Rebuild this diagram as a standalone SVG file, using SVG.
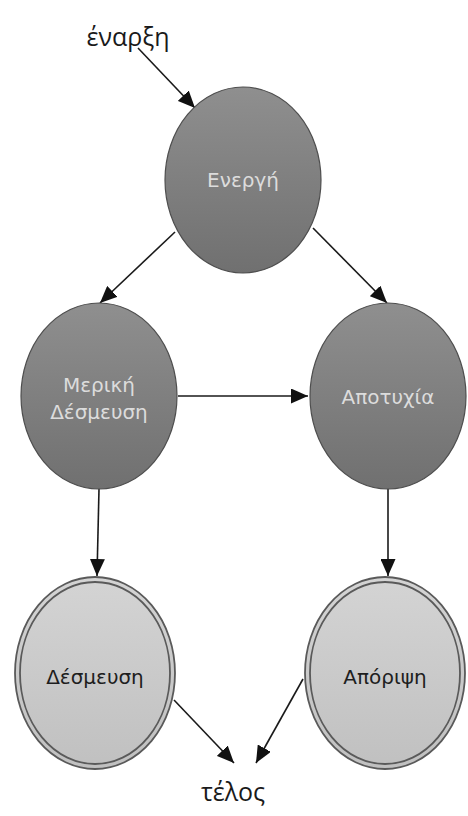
<svg xmlns="http://www.w3.org/2000/svg" width="468" height="816" viewBox="0 0 468 816">
  <defs>
    <linearGradient id="darkFill" x1="0" y1="0" x2="0" y2="1">
      <stop offset="0" stop-color="#8f8f8f"/>
      <stop offset="1" stop-color="#707070"/>
    </linearGradient>
    <linearGradient id="lightFill" x1="0" y1="0" x2="0" y2="1">
      <stop offset="0" stop-color="#d4d4d4"/>
      <stop offset="1" stop-color="#c0c0c0"/>
    </linearGradient>
    <marker id="arrow" markerUnits="userSpaceOnUse" markerWidth="17" markerHeight="15" viewBox="0 0 17 15" refX="17" refY="7.5" orient="auto">
      <path d="M0,0 L17,7.5 L0,15 Z" fill="#111"/>
    </marker>
    <style>
      .state { fill: url(#darkFill); stroke: #4e4e4e; stroke-width: 1.2; }
      .final { fill: url(#lightFill); stroke: #5a5a5a; stroke-width: 1.8; }
      .ring { fill: none; stroke: #5a5a5a; stroke-width: 1.8; }
      .lbl-light { font-family: "DejaVu Sans", Verdana, sans-serif; font-size: 20px; fill: #dcdcdc; text-anchor: middle; }
      .lbl-dark { font-family: "DejaVu Sans", Verdana, sans-serif; font-size: 20px; fill: #1e1e1e; text-anchor: middle; }
      .term { font-family: "Open Sans", "Noto Sans", sans-serif; font-size: 25px; fill: #1a1a1a; text-anchor: middle; }
      .edge { stroke: #1a1a1a; stroke-width: 1.6; fill: none; marker-end: url(#arrow); }
    </style>
  </defs>

  <rect width="468" height="816" fill="#ffffff"/>

  <!-- connectors -->
  <g id="edges">
    <line class="edge" x1="138" y1="48" x2="195" y2="108"/>
    <line class="edge" x1="175" y1="232" x2="100" y2="303"/>
    <line class="edge" x1="313" y1="228" x2="387" y2="303"/>
    <line class="edge" x1="178" y1="396" x2="308" y2="396"/>
    <line class="edge" x1="99" y1="489" x2="97" y2="576"/>
    <line class="edge" x1="388" y1="489" x2="388" y2="576"/>
    <line class="edge" x1="174" y1="700" x2="234" y2="763"/>
    <line class="edge" x1="303" y1="679" x2="256" y2="763"/>
  </g>

  <!-- start / end labels -->
  <g id="start">
    <text class="term" x="128" y="46">έναρξη</text>
  </g>
  <g id="end">
    <text class="term" x="233" y="801">τέλος</text>
  </g>

  <!-- states -->
  <g id="energi">
    <ellipse class="state" cx="243" cy="180" rx="78" ry="93"/>
    <text class="lbl-light" x="243" y="187">Ενεργή</text>
  </g>
  <g id="meriki-desmeusi">
    <ellipse class="state" cx="99" cy="396" rx="78" ry="93"/>
    <text class="lbl-light" x="99" y="392">Μερική</text>
    <text class="lbl-light" x="99" y="419">Δέσμευση</text>
  </g>
  <g id="apotyxia">
    <ellipse class="state" cx="388" cy="396" rx="78" ry="93"/>
    <text class="lbl-light" x="388" y="404">Αποτυχία</text>
  </g>
  <g id="desmeusi">
    <ellipse class="final" cx="95" cy="673" rx="80" ry="96"/>
    <ellipse class="ring" cx="95" cy="673" rx="75" ry="91"/>
    <text class="lbl-dark" x="95" y="684">Δέσμευση</text>
  </g>
  <g id="aporipsi">
    <ellipse class="final" cx="385" cy="673" rx="80" ry="96"/>
    <ellipse class="ring" cx="385" cy="673" rx="75" ry="91"/>
    <text class="lbl-dark" x="385" y="684">Απόριψη</text>
  </g>
</svg>
